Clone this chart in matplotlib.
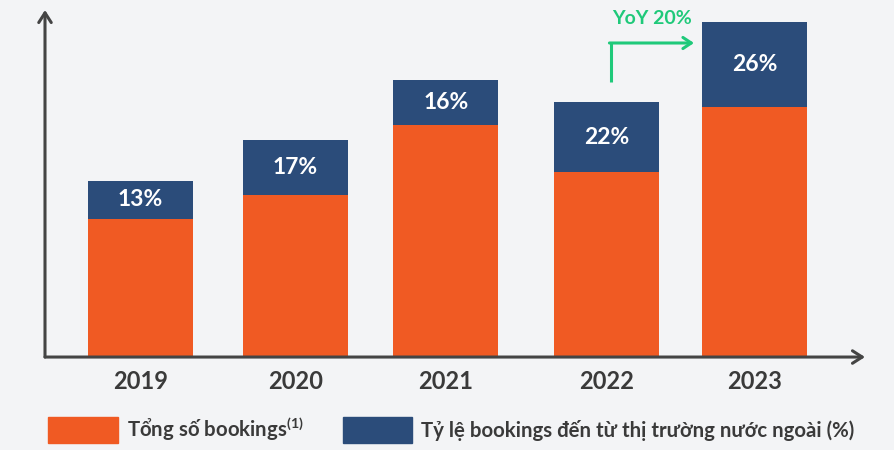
import matplotlib.pyplot as plt
import numpy as np
from matplotlib.patches import Patch

plt.rcParams['font.family'] = ['Lato', 'DejaVu Sans']
plt.rcParams['mathtext.default'] = 'regular'

years = ["2019", "2020", "2021", "2022", "2023"]
total_bookings = [137, 161, 231, 184, 249]
foreign_part = [38, 55, 45, 70, 85]
foreign_pct = ["13%", "17%", "16%", "22%", "26%"]
yoy_label = "YoY 20%"

orange = "#f05a23"
navy = "#2b4c7a"
green = "#1fc97a"
axis_col = "#444444"
bg = "#f3f4f6"

fig = plt.figure(figsize=(8.94, 4.5), dpi=100, facecolor=bg)
W, H = 894, 450
ax = fig.add_axes([45 / W, (H - 356) / H, 820 / W, 346 / H])
ax.set_facecolor(bg)

# bar slots are not spaced quite evenly in the original layout
x = np.array([0, 1.01, 1.99, 3.035, 4.0])
ax.bar(x, total_bookings, width=0.684, color=orange, zorder=2)
ax.bar(x, foreign_part, bottom=total_bookings, width=0.684, color=navy, zorder=2)

for xi, b, h, t in zip(x, total_bookings, foreign_part, foreign_pct):
    ax.text(xi, b + h / 2, t, ha="center", va="center", color="white",
            fontsize=16.5, fontweight="bold", zorder=3)

ax.set_xlim(-0.622, 4.72)
ax.set_ylim(0, 346)
for s in ax.spines.values():
    s.set_visible(False)
ax.set_yticks([])
ax.set_xticks(x)
ax.set_xticklabels(years, fontsize=17, fontweight="bold", color="#3a3a3a")
ax.tick_params(axis="x", length=0, pad=10)

# axis arrows
arrow = dict(arrowstyle="->,head_length=0.7,head_width=0.45", color=axis_col, lw=2.2,
             shrinkA=0, shrinkB=0)
ax.annotate("", xy=(0, 1), xytext=(0, -0.003), xycoords="axes fraction", arrowprops=arrow)
ax.annotate("", xy=(1, -0.003), xytext=(0, -0.003), xycoords="axes fraction", arrowprops=arrow)

# YoY arrow between 2022 and 2023
ax.plot([3.065, 3.065], [274, 313], color=green, lw=2.2, solid_capstyle="butt", zorder=3)
ax.annotate("", xy=(3.606, 313), xytext=(3.055, 313),
            arrowprops=dict(arrowstyle="->,head_length=0.6,head_width=0.4", color=green,
                            lw=2.2, shrinkA=0, shrinkB=0))
ax.text(3.33, 338, yoy_label, ha="center", va="center", color=green,
        fontsize=14, fontweight="bold")

handles = [Patch(color=orange), Patch(color=navy)]
labels = ["Tổng số bookings$^{(1)}$", "Tỷ lệ bookings đến từ thị trường nước ngoài (%)"]
leg = fig.legend(handles, labels, loc="lower left", bbox_to_anchor=(30 / W, -11 / H),
                 ncol=2, frameon=False, handlelength=3.4, handleheight=1.55,
                 handletextpad=0.45, columnspacing=1.9,
                 prop=dict(family=['Lato', 'DejaVu Sans'], weight="bold", size=14.7))
for t in leg.get_texts():
    t.set_color("#3a3a3a")

fig.savefig("out.png", dpi=100, facecolor=bg)
